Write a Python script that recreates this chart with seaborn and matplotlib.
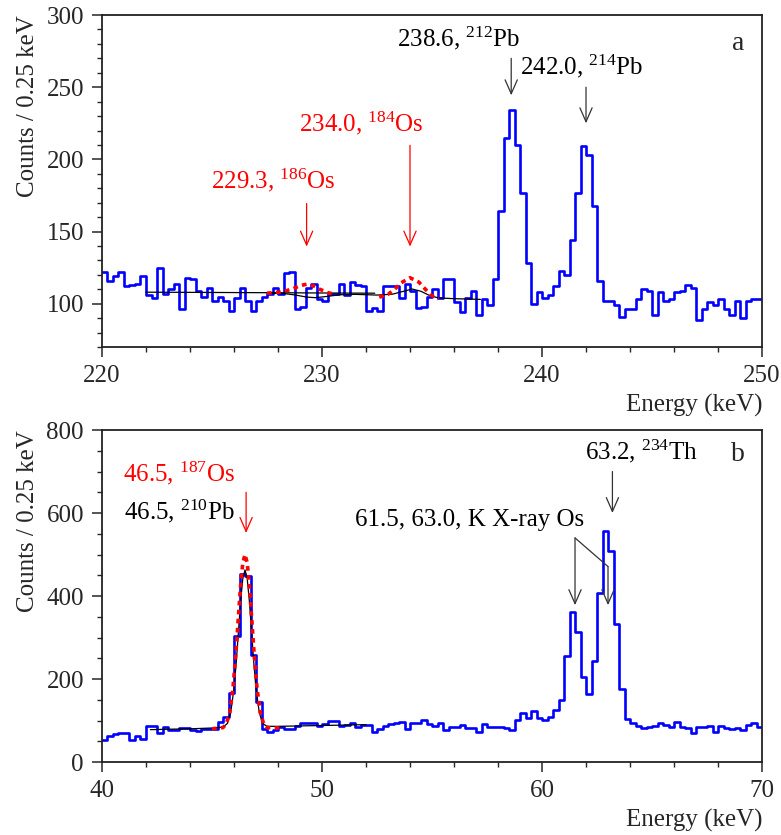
import numpy as np
import pandas as pd
import matplotlib
matplotlib.use('Agg')
import matplotlib.pyplot as plt
import seaborn as sns

# panel a : 220-250 keV, 0.25 keV bins
counts_a = [122, 116, 119, 122, 112, 113, 114, 119, 106, 104, 125, 107, 110, 114, 96,
            118, 117, 109, 105, 111, 102, 105, 102, 95, 104, 111, 102, 95, 102, 105,
            107, 111, 107, 121, 122,
            96, 98, 111, 114, 103, 102, 107, 107, 114, 106, 115, 113, 112, 95, 97,
            95, 112, 112, 112, 104, 114, 109, 97, 98, 105, 110, 104, 117, 117, 101,
            94, 104,
            109, 92, 103, 99, 117, 164, 215, 234, 210, 177, 128, 100, 108, 104, 106,
            112, 123, 120, 144, 177, 209, 203, 168, 116, 102, 102, 99, 91, 96, 96,
            103, 110, 109, 92, 108, 102, 103, 108, 109, 113, 111, 89, 96, 101, 99,
            103, 96, 92, 102, 90, 102, 103, 103]

# panel b : 40-70 keV, 0.25 keV bins
counts_b = [54, 63, 67, 70, 69, 52, 62, 55, 86, 88, 70, 85, 78, 77, 83, 83, 78, 74,
            80, 80, 80, 97, 109, 167, 304, 453, 448, 258, 145, 80, 72, 78, 84, 80,
            79, 86, 93, 94, 94, 86, 91, 99, 99, 86, 89, 94, 85, 89, 89, 72, 79, 86,
            91, 94, 97, 79, 95, 95, 101, 91, 86, 94, 78, 85, 85, 89, 82, 81, 72, 92,
            85, 84, 84, 83, 78, 101, 117, 105, 122, 106, 101, 109, 125, 149, 256, 362,
            313, 204, 163, 244, 407, 556, 509, 333, 177, 103, 93, 86, 81, 84, 86, 93,
            89, 85, 97, 84, 81, 71, 85, 85, 86, 73, 86, 81, 80, 81, 76, 89, 93, 85]

# fit curves
fit_a1_x = [222.0, 225.0, 228.0, 230.5, 232.4]
fit_a1_y = [108.0, 107.8, 107.6, 107.4, 107.3]
fit_a2_x = [227.5, 228.3, 228.8, 229.3, 229.7, 230.2, 230.8, 231.5, 232.5, 233.2,
            233.7, 234.1, 234.5, 234.9, 235.3, 236.0, 237.2]
fit_a2_y = [107.3, 107.0, 106.0, 104.6, 104.2, 105.0, 106.2, 106.5, 106.0, 106.6,
            108.6, 110.2, 108.6, 105.6, 104.0, 103.5, 103.0]
lim_a1_x = [227.5, 228.2, 228.7, 229.0, 229.3, 229.6, 229.9, 230.3, 230.6]
lim_a1_y = [107.3, 108.2, 110.5, 112.5, 113.5, 112.5, 110.0, 107.5, 106.6]
lim_a2_x = [232.6, 233.0, 233.3, 233.6, 234.0, 234.4, 234.7, 235.0, 235.3]
lim_a2_y = [104.5, 106.5, 110.0, 114.5, 118.0, 115.0, 110.0, 105.5, 103.5]

fit_b_x = [42.2, 43.0, 44.0, 45.0, 45.5, 45.7, 45.85, 46.0, 46.1, 46.2, 46.3, 46.4,
           46.5, 46.6, 46.7, 46.8, 46.9, 47.0, 47.15, 47.3, 47.5, 48.0, 49.0, 50.0,
           51.0, 52.0]
fit_b_y = [78, 79, 80, 82, 84, 93, 119, 177, 239, 313, 387, 442,
           463, 442, 387, 313, 239, 177, 119, 93, 86, 86, 87, 88, 89, 90]
lim_b_x = [45.0, 45.5, 45.65, 45.8, 45.95, 46.1, 46.2, 46.3, 46.4, 46.5, 46.6,
           46.7, 46.8, 46.9, 47.05, 47.2, 47.35, 47.5, 48.2]
lim_b_y = [80, 83, 92, 118, 176, 272, 350, 426, 480, 500, 480,
           426, 350, 272, 176, 118, 92, 83, 82]

sns.set_style('ticks')
plt.rcParams['font.family'] = ['Liberation Serif', 'DejaVu Serif']
plt.rcParams['mathtext.fontset'] = 'custom'
plt.rcParams['mathtext.rm'] = 'Liberation Serif'
plt.rcParams['mathtext.it'] = 'Liberation Serif:italic'
plt.rcParams['font.size'] = 18

fig = plt.figure(figsize=(7.81, 8.35), dpi=100)
ax1 = fig.add_axes([0.1306, 0.5844, 0.8451, 0.3976])
ax2 = fig.add_axes([0.1306, 0.0874, 0.8451, 0.3976])

blue = '#0000ff'
red = '#ff0000'
dark = '#333333'
dots = (0, (1.3, 1.2))

df_a = pd.DataFrame({'energy': 220.125 + 0.25 * np.arange(len(counts_a)), 'counts': counts_a})
df_b = pd.DataFrame({'energy': 40.125 + 0.25 * np.arange(len(counts_b)), 'counts': counts_b})

sns.histplot(data=df_a, x='energy', weights='counts', binwidth=0.25, binrange=(220, 250),
             element='step', fill=False, color=blue, lw=1.9, ax=ax1)
sns.lineplot(x=fit_a1_x, y=fit_a1_y, color='k', lw=0.9, ax=ax1)
sns.lineplot(x=fit_a2_x, y=fit_a2_y, color='k', lw=0.9, ax=ax1)
for xs, ys in [(lim_a1_x, lim_a1_y), (lim_a2_x, lim_a2_y)]:
    sns.lineplot(x=xs, y=ys, color=red, lw=2.6, ls=dots, ax=ax1)

sns.histplot(data=df_b, x='energy', weights='counts', binwidth=0.25, binrange=(40, 70),
             element='step', fill=False, color=blue, lw=1.9, ax=ax2)
sns.lineplot(x=fit_b_x, y=fit_b_y, color='k', lw=0.9, ax=ax2)
sns.lineplot(x=lim_b_x, y=lim_b_y, color=red, lw=2.6, ls=dots, ax=ax2)

ax1.set_xlim(220, 250)
ax1.set_ylim(70, 300)
ax2.set_xlim(40, 70)
ax2.set_ylim(0, 800)

ax1.set_xticks([220, 230, 240, 250])
ax1.set_xticks(np.arange(220, 251, 2), minor=True)
ax1.set_yticks([100, 150, 200, 250, 300])
ax1.set_yticks(np.arange(70, 301, 10), minor=True)
ax2.set_xticks([40, 50, 60, 70])
ax2.set_xticks(np.arange(40, 71, 2), minor=True)
ax2.set_yticks([0, 200, 400, 600, 800])
ax2.set_yticks(np.arange(0, 801, 50), minor=True)

for ax in [ax1, ax2]:
    for s in ax.spines.values():
        s.set_visible(True)
        s.set_linewidth(1.3)
        s.set_color('#222222')
    ax.tick_params(which='major', direction='out', length=7, width=1.1, labelsize=18)
    ax.tick_params(which='minor', direction='out', length=3.5, width=1.0)
    ax.tick_params(axis='x', which='major', pad=6)
    ax.tick_params(axis='y', which='major', pad=6)
    ax.set_xlabel('Energy (keV)', loc='right', fontsize=18, labelpad=5)
    ax.set_ylabel('Counts / 0.25 keV', loc='top', fontsize=18, labelpad=5)


def arrow(ax, x, y0, y1, color, x0=None):
    ax.annotate('', xy=(x, y1), xytext=(x if x0 is None else x0, y0),
                arrowprops=dict(arrowstyle='->,head_length=0.5,head_width=0.22',
                                color=color, lw=0.9, shrinkA=0, shrinkB=0,
                                mutation_scale=20))


# labels panel a
ax1.text(227.8, 185.4, r'229.3, $^{\mathrm{186}}$Os', color=red, ha='center', va='center')
arrow(ax1, 229.3, 169.4, 139.6, red)
ax1.text(231.8, 225, r'234.0, $^{\mathrm{184}}$Os', color=red, ha='center', va='center')
arrow(ax1, 234.0, 209.7, 139.6, red)
ax1.text(236.2, 284, r'238.6, $^{\mathrm{212}}$Pb', color='k', ha='center', va='center')
arrow(ax1, 238.6, 270, 244.4, dark)
ax1.text(241.8, 264.6, r'242.0, $^{\mathrm{214}}$Pb', color='k', ha='center', va='center')
arrow(ax1, 242.0, 250, 225, dark)
ax1.text(248.9, 280.5, 'a', ha='center', va='center', fontsize=20)

# labels panel b
ax2.text(43.5, 696, r'46.5, $^{\mathrm{187}}$Os', color=red, ha='center', va='center')
ax2.text(43.5, 604, r'46.5, $^{\mathrm{210}}$Pb', color='k', ha='center', va='center')
arrow(ax2, 46.55, 650, 552, red)
ax2.text(64.5, 749, r'63.2, $^{\mathrm{234}}$Th', color='k', ha='center', va='center')
arrow(ax2, 63.2, 700, 600, dark)
ax2.text(56.7, 584, '61.5, 63.0, K X-ray Os', color='k', ha='center', va='center')
arrow(ax2, 61.5, 540, 378, dark)
ax2.annotate('', xy=(63.0, 471), xytext=(61.5, 540),
             arrowprops=dict(arrowstyle='-', color=dark, lw=0.9, shrinkA=0, shrinkB=0))
arrow(ax2, 63.0, 471, 378, dark)
ax2.text(68.9, 741, 'b', ha='center', va='center', fontsize=20)

fig.savefig('out.png', dpi=100)
